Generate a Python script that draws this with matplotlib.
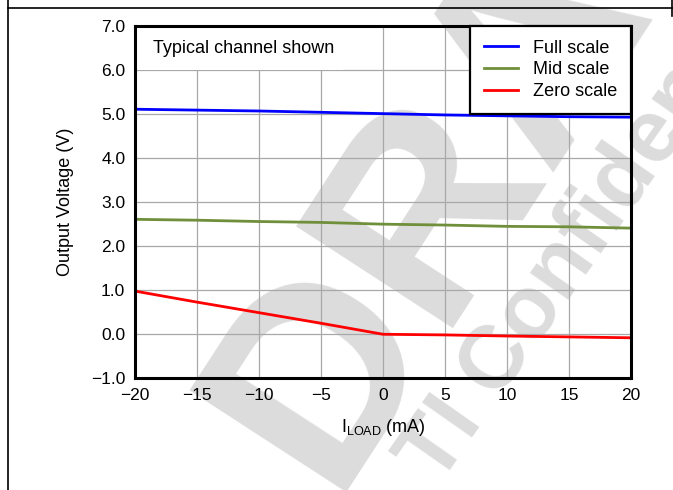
import numpy as np
import matplotlib
matplotlib.use('Agg')
import matplotlib.pyplot as plt
from matplotlib.patches import Rectangle
from matplotlib.lines import Line2D

plt.rcParams['font.family'] = ['Liberation Sans', 'DejaVu Sans']

i_load = [-20, -15, -10, -5, 0, 5, 10, 15, 20]
full_scale = [5.11, 5.09, 5.07, 5.04, 5.01, 4.98, 4.96, 4.94, 4.93]
mid_scale = [2.61, 2.59, 2.56, 2.54, 2.50, 2.48, 2.45, 2.44, 2.41]
zero_scale = [0.98, 0.73, 0.49, 0.25, 0.0, -0.015, -0.04, -0.06, -0.08]

x_ticks = [-20, -15, -10, -5, 0, 5, 10, 15, 20]
x_tick_labels = ['\u221220', '\u221215', '\u221210', '\u22125', '0', '5', '10', '15', '20']
y_ticks = [-1, 0, 1, 2, 3, 4, 5, 6, 7]
y_tick_labels = ['\u22121.0', '0.0', '1.0', '2.0', '3.0', '4.0', '5.0', '6.0', '7.0']

fig = plt.figure(figsize=(6.73, 4.90), dpi=100)

# watermark behind everything
wm = '#dcdcdc'
fig.text(520 / 673, 1 - 66 / 490, 'DRAFT', fontsize=196, fontweight='bold',
         color=wm, rotation=57, ha='center', va='center',
         rotation_mode='anchor', zorder=-5)
fig.text(596 / 673, 1 - 220 / 490, 'TI Confidential', fontsize=64,
         fontweight='bold', color=wm, rotation=55, ha='center', va='center',
         rotation_mode='anchor', zorder=-5)

# page frame lines
fig.add_artist(Line2D([8 / 673, 1], [1 - 8 / 490, 1 - 8 / 490], color='black', lw=1.2))
fig.add_artist(Line2D([8 / 673, 8 / 673], [0, 1], color='black', lw=1.2))
fig.add_artist(Line2D([672 / 673, 672 / 673], [1, 1 - 16 / 490], color='black', lw=1.2))

ax = fig.add_axes([135 / 673, 1 - 378.3 / 490, 496 / 673, 352.3 / 490])
ax.set_facecolor('none')

ax.plot(i_load, full_scale, color='#0000ff', lw=2.0, label='Full scale', zorder=3)
ax.plot(i_load, mid_scale, color='#6f8f3a', lw=2.0, label='Mid scale', zorder=3)
ax.plot(i_load, zero_scale, color='#ff0000', lw=2.0, label='Zero scale', zorder=3)

ax.set_xlim(-20, 20)
ax.set_ylim(-1, 7)
ax.set_xticks(x_ticks)
ax.set_xticklabels(x_tick_labels)
ax.set_yticks(y_ticks)
ax.set_yticklabels(y_tick_labels)
ax.tick_params(length=0, labelsize=12.5, pad=7)
ax.grid(True, color='#a8a8a8', lw=0.9)
ax.set_axisbelow(True)
for s in ax.spines.values():
    s.set_linewidth(2.2)
    s.set_zorder(5)

# white box behind note text
ax.add_patch(Rectangle((0, 0.875), 0.42, 0.125, transform=ax.transAxes,
                       facecolor='white', edgecolor='none', zorder=1.5))
ax.text(0.036, 0.936, 'Typical channel shown', transform=ax.transAxes,
        fontsize=13, ha='left', va='center', zorder=2)

leg = ax.legend(loc='upper right', fontsize=13, frameon=True, fancybox=False,
                edgecolor='black', framealpha=1, borderaxespad=0,
                handlelength=1.9, handletextpad=0.85, labelspacing=0.27,
                borderpad=0.75)
leg.get_frame().set_linewidth(1.6)
leg.set_zorder(6)

ax.set_xlabel('$\\mathregular{I_{LOAD}}$ (mA)', fontsize=13, labelpad=10)
ax.set_ylabel('Output Voltage (V)', fontsize=13, labelpad=12)

fig.savefig('out.png', dpi=100)
